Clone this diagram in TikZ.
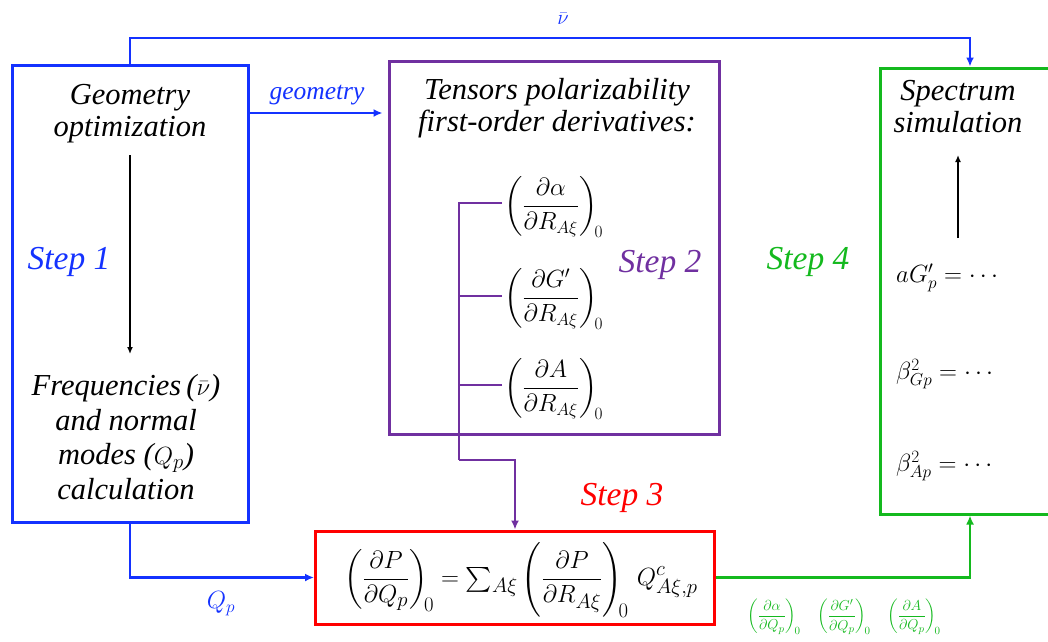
\documentclass[tikz,border=0pt]{standalone}
\usepackage[no-math]{fontspec}
\setmainfont{Liberation Serif}
\usepackage{amsmath}
\usetikzlibrary{arrows.meta}
\definecolor{cblue}{RGB}{20,50,255}
\definecolor{cpurple}{RGB}{112,48,160}
\definecolor{cred}{RGB}{255,0,0}
\definecolor{cgreen}{RGB}{20,185,30}
\begin{document}
\begin{tikzpicture}[x=1pt,y=-1pt,
  box/.style={draw,line width=3pt,inner sep=0pt,rectangle},
  conn/.style={line width=2.4pt,-{Latex[length=9pt,width=8pt]}},
  plain/.style={line width=2.4pt},
  itxt/.style={font=\fontsize{30.5}{32}\selectfont\itshape,align=center,inner sep=0pt},
  steplbl/.style={font=\fontsize{33.5}{38}\selectfont\itshape,inner sep=0pt},
  mth/.style={font=\fontsize{26}{30}\selectfont,inner sep=2pt},
  mthg/.style={font=\fontsize{15}{18}\selectfont,inner sep=0pt,text=cgreen},
  sim/.style={font=\fontsize{24}{29}\selectfont,inner sep=0pt,anchor=west}
]
\useasboundingbox (0,0) rectangle (1048,641);
\clip (0,0) rectangle (1048,641);

% boxes
\node[box,draw=cblue,minimum width=236pt,minimum height=457pt] (s1) at (130,293.5) {};
\node[box,draw=cpurple,minimum width=330pt,minimum height=373pt] (s2) at (554,247.5) {};
\node[box,draw=cred,minimum width=399pt,minimum height=93pt] (s3) at (515,577.5) {};
\node[box,draw=cgreen,minimum width=180pt,minimum height=446pt] (s4) at (970,291) {};

% step 1 texts
\node[itxt] (t1) at (130,114) {Geometry\\optimization};
\node[itxt,font=\fontsize{30.5}{34.5}\selectfont\itshape] (t2) at (126,437) {Frequencies\,($\bar{\nu}$)\\and normal\\modes ($Q_p$)\\calculation};
\coordinate (a1s) at (130,155);
\coordinate (a1e) at (130,354);
\draw[line width=2pt,-{Latex[length=7pt,width=6pt]}] (a1s) -- (a1e);
\node[steplbl,text=cblue] (st1) at (69,262) {Step 1};

% step 2
\node[itxt] (t3) at (557,108) {Tensors polarizability\\first-order derivatives:};
\node[mth,anchor=west] (d1) at (502,207) {$\displaystyle\left(\frac{\partial\alpha}{\partial R_{A\xi}}\right)_{\!0}$};
\node[mth,anchor=west] (d2) at (502,299) {$\displaystyle\left(\frac{\partial G'}{\partial R_{A\xi}}\right)_{\!0}$};
\node[mth,anchor=west] (d3) at (502,389) {$\displaystyle\left(\frac{\partial A}{\partial R_{A\xi}}\right)_{\!0}$};
\node[steplbl,text=cpurple] (st2) at (660,265) {Step 2};
\coordinate (pv1) at (459,203);
\coordinate (pv4) at (459,460);
\draw[plain,cpurple] (d1.west |- pv1) -- (pv1) -- (pv4);
\draw[plain,cpurple] (502,296) -- (459,296);
\draw[plain,cpurple] (502,385) -- (459,385);
\draw[conn,cpurple,line width=2pt] (pv4) -| (s3.north);

% step 3
\node[mth,font=\fontsize{28}{32}\selectfont] (f) at (521,580) {$\displaystyle\left(\frac{\partial P}{\partial Q_p}\right)_{\!0} = \textstyle\sum_{A\xi}\displaystyle\left(\frac{\partial P}{\partial R_{A\xi}}\right)_{\!0}\, Q^{c}_{A\xi,p}$};
\node[steplbl,text=cred] (st3) at (622,498) {Step 3};

% step 4
\node[itxt] (t4) at (958,107) {Spectrum\\simulation};
\coordinate (a4s) at (958,238);
\coordinate (a4e) at (958,155);
\draw[line width=2pt,-{Latex[length=7pt,width=6pt]}] (a4s) -- (a4e);
\node[sim] (e1) at (896,278) {$aG'_p=\cdots$};
\node[sim] (e2) at (896,374) {$\beta^2_{Gp}=\cdots$};
\node[sim] (e3) at (896,466) {$\beta^2_{Ap}=\cdots$};
\node[steplbl,text=cgreen] (st4) at (808,262) {Step 4};

% connectors
\coordinate (nub) at (970,38);
\draw[conn,cblue] (s1.north) |- (nub) -- (s4.north);
\node[font=\fontsize{21}{24}\selectfont,text=cblue,inner sep=0pt] (nul) at (563,19) {$\bar{\nu}$};

\coordinate (geo) at (248,113);
\draw[conn,cblue,shorten >=5pt] (geo) -- (geo -| s2.west);
\node[font=\fontsize{25.5}{28}\selectfont\itshape,text=cblue,inner sep=0pt] (geol) at (317,95) {geometry};

\draw[conn,cblue] (s1.south) |- (s3.west);
\node[font=\fontsize{24}{28}\selectfont,text=cblue,inner sep=0pt] (qpl) at (221,604) {$Q_p$};

\draw[conn,cgreen] (s3.east) -| (s4.south);
\node[mthg] (g1) at (774,617) {$\displaystyle\left(\frac{\partial\alpha}{\partial Q_p}\right)_{\!0}$};
\node[mthg] (g2) at (844,617) {$\displaystyle\left(\frac{\partial G'}{\partial Q_p}\right)_{\!0}$};
\node[mthg] (g3) at (914,617) {$\displaystyle\left(\frac{\partial A}{\partial Q_p}\right)_{\!0}$};
\end{tikzpicture}
\end{document}
